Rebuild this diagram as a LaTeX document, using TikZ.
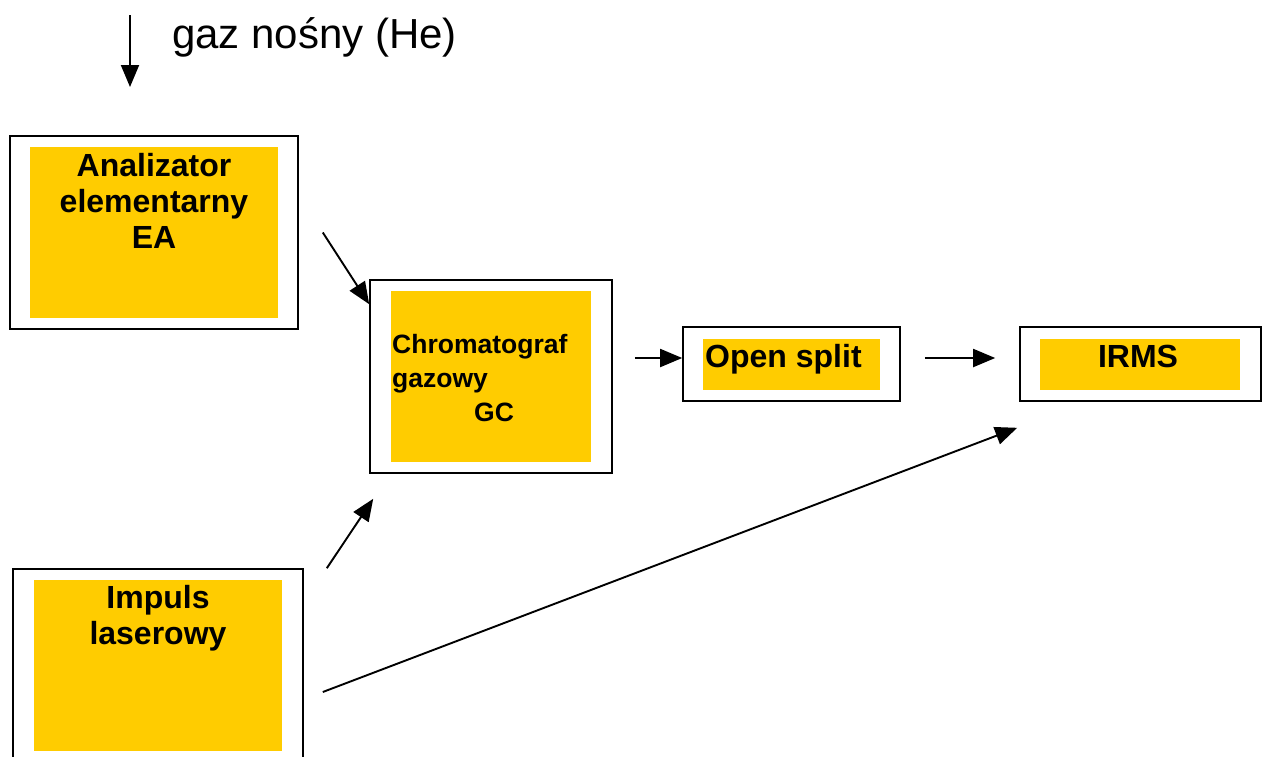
\documentclass[tikz,border=0pt]{standalone}
\usepackage{fontspec}
\setmainfont{Liberation Sans}
\usetikzlibrary{arrows.meta}
\definecolor{boxyellow}{HTML}{FFCC00}

\begin{document}
\begin{tikzpicture}[x=1pt, y=-1pt,
	outerbox/.style={draw=black, line width=1.6pt, fill=white, inner sep=0pt},
	innerbox/.style={fill=boxyellow, draw=none, inner sep=0pt},
	boxtext/.style={font=\bfseries\fontsize{32}{36}\selectfont, inner sep=0pt, anchor=base, align=center},
	flow/.style={-{Triangle[length=22pt,width=18pt]}, line width=1.9pt}]
	\useasboundingbox (0,0) rectangle (1263,756);
%	% Carrier gas
	\coordinate (heStart) at (130,15);
	\coordinate (heEnd) at (130,87);
	\draw[flow] (heStart) -- (heEnd);
	\node[font=\fontsize{42}{48}\selectfont, anchor=base west, inner sep=0pt] (gasLabel) at (172,48) {gaz nośny (He)};
%	% Elemental analyser
	\node[outerbox, minimum width=288pt, minimum height=193pt] (ea) at (154,232.5) {};
	\node[innerbox, minimum width=248pt, minimum height=171pt] (eaIn) at (ea.center) {};
	\node[boxtext] (eaText) at (154,248) {Analizator\\elementarny\\EA};
%	% Gas chromatograph
	\node[outerbox, minimum width=242pt, minimum height=193pt] (gc) at (491,376.5) {};
	\node[innerbox, minimum width=200pt, minimum height=171pt] (gcIn) at (gc.center) {};
	\node[boxtext, font=\bfseries\fontsize{26.5}{34}\selectfont, align=left, anchor=base west] (gcText) at (392,421) {Chromatograf\\gazowy\\\hspace*{82pt}GC};
%	% Open split
	\node[outerbox, minimum width=217pt, minimum height=74pt] (open) at (791.5,364) {};
	\node[innerbox, minimum width=177pt, minimum height=51pt] (openIn) at (791.5,364.5) {};
	\node[boxtext, anchor=base west] (openText) at (705,367) {Open split};
%	% IRMS
	\node[outerbox, minimum width=241pt, minimum height=74pt] (irms) at (1140.5,364) {};
	\node[innerbox, minimum width=200pt, minimum height=51pt] (irmsIn) at (1140,364.5) {};
	\node[boxtext] (irmsText) at (1138,367) {IRMS};
%	% Laser pulse
	\node[outerbox, minimum width=290pt, minimum height=193pt] (imp) at (158,665.5) {};
	\node[innerbox, minimum width=248pt, minimum height=171pt] (impIn) at (imp.center) {};
	\node[boxtext] (impText) at (158,644) {Impuls\\laserowy};
%	% Flow
	\draw[flow] ([xshift=24pt]ea.east) -- ([yshift=-25pt]gc.north west);
	\draw[flow] ([xshift=23pt]imp.north east) -- ([shift={(4,25)}]gc.south west);
	\draw[flow] ([shift={(19,26.5)}]imp.east) -- ([shift={(-2,26)}]irms.south west);
	\draw[flow] ([shift={(22,-18.5)}]gc.east) -- ([yshift=6pt]open.west);
	\draw[flow] ([shift={(24,-6)}]open.east) -- ([shift={(-24,-6)}]irms.west);
\end{tikzpicture}
\end{document}
